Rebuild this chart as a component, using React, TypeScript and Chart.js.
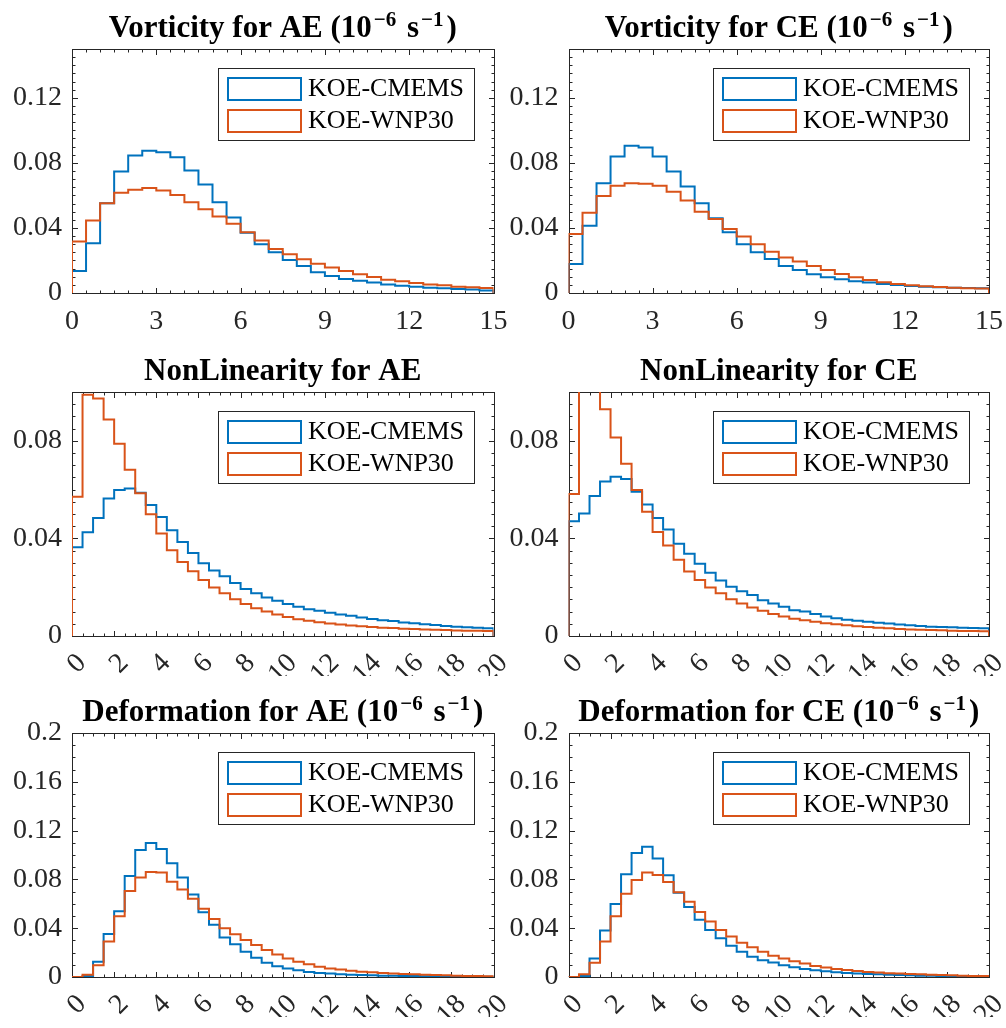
import React, { useEffect, useRef } from 'react';
import { Chart, registerables } from 'chart.js';

Chart.register(...registerables);

// ---------------- data ----------------
const seriesNames = ['KOE-CMEMS', 'KOE-WNP30'];
const seriesColors = ['#0072BD', '#D95319'];

const vorticityEdges = [0, 0.5, 1, 1.5, 2, 2.5, 3, 3.5, 4, 4.5, 5, 5.5, 6, 6.5, 7, 7.5, 8, 8.5, 9, 9.5, 10, 10.5, 11, 11.5, 12, 12.5, 13, 13.5, 14, 14.5, 15];
const longEdges = [0, 0.5, 1, 1.5, 2, 2.5, 3, 3.5, 4, 4.5, 5, 5.5, 6, 6.5, 7, 7.5, 8, 8.5, 9, 9.5, 10, 10.5, 11, 11.5, 12, 12.5, 13, 13.5, 14, 14.5, 15, 15.5, 16, 16.5, 17, 17.5, 18, 18.5, 19, 19.5, 20];

const vortXTicks = [0, 3, 6, 9, 12, 15];
const vortXLabels = ['0', '3', '6', '9', '12', '15'];
const longXTicks = [0, 2, 4, 6, 8, 10, 12, 14, 16, 18, 20];
const longXLabels = ['0', '2', '4', '6', '8', '10', '12', '14', '16', '18', '20'];
const vortYTicks = [0, 0.04, 0.08, 0.12];
const vortYLabels = ['0', '0.04', '0.08', '0.12'];
const nlYTicks = [0, 0.04, 0.08];
const nlYLabels = ['0', '0.04', '0.08'];
const defYTicks = [0, 0.04, 0.08, 0.12, 0.16, 0.2];
const defYLabels = ['0', '0.04', '0.08', '0.12', '0.16', '0.2'];

const vortAE_CMEMS = [0.0135, 0.0306, 0.0552, 0.0747, 0.0845, 0.0874, 0.0866, 0.0835, 0.0753, 0.0667, 0.0558, 0.0464, 0.0371, 0.0299, 0.0250, 0.0203, 0.0166, 0.0127, 0.0105, 0.0086, 0.0076, 0.0064, 0.0053, 0.0045, 0.0039, 0.0033, 0.0029, 0.0025, 0.0021, 0.0015];
const vortAE_WNP30 = [0.0316, 0.0445, 0.0552, 0.0617, 0.0634, 0.0646, 0.0630, 0.0603, 0.0558, 0.0515, 0.0470, 0.0425, 0.0373, 0.0322, 0.0271, 0.0238, 0.0207, 0.0180, 0.0156, 0.0135, 0.0115, 0.0098, 0.0082, 0.0072, 0.0062, 0.0053, 0.0047, 0.0039, 0.0035, 0.0031];

const vortCE_CMEMS = [0.0178, 0.0414, 0.0675, 0.0839, 0.0905, 0.0894, 0.0839, 0.0747, 0.0654, 0.0552, 0.0460, 0.0373, 0.0299, 0.0250, 0.0209, 0.0166, 0.0142, 0.0115, 0.0097, 0.0084, 0.0072, 0.0064, 0.0055, 0.0049, 0.0043, 0.0039, 0.0035, 0.0033, 0.0031, 0.0029];
const vortCE_WNP30 = [0.0363, 0.0494, 0.0597, 0.0660, 0.0675, 0.0671, 0.0660, 0.0623, 0.0568, 0.0500, 0.0455, 0.0394, 0.0347, 0.0299, 0.0254, 0.0219, 0.0193, 0.0166, 0.0142, 0.0117, 0.0097, 0.0080, 0.0066, 0.0055, 0.0047, 0.0041, 0.0037, 0.0033, 0.0029, 0.0027];

const nlAE_CMEMS = [0.0364, 0.0425, 0.0484, 0.0564, 0.0598, 0.0605, 0.0587, 0.0537, 0.0488, 0.0433, 0.0385, 0.0340, 0.0298, 0.0268, 0.0245, 0.0217, 0.0193, 0.0175, 0.0158, 0.0144, 0.0131, 0.0120, 0.0110, 0.0103, 0.0095, 0.0088, 0.0083, 0.0076, 0.0070, 0.0065, 0.0061, 0.0055, 0.0052, 0.0048, 0.0045, 0.0041, 0.0038, 0.0036, 0.0034, 0.0032];
const nlAE_WNP30 = [0.0571, 0.0989, 0.0973, 0.0887, 0.0788, 0.0681, 0.0585, 0.0499, 0.0420, 0.0351, 0.0303, 0.0265, 0.0230, 0.0199, 0.0175, 0.0151, 0.0131, 0.0114, 0.0100, 0.0088, 0.0078, 0.0069, 0.0062, 0.0056, 0.0051, 0.0047, 0.0043, 0.0040, 0.0037, 0.0034, 0.0033, 0.0030, 0.0029, 0.0027, 0.0026, 0.0025, 0.0023, 0.0022, 0.0022, 0.0021];

const nlCE_CMEMS = [0.0470, 0.0502, 0.0574, 0.0633, 0.0653, 0.0643, 0.0591, 0.0539, 0.0484, 0.0436, 0.0378, 0.0337, 0.0296, 0.0259, 0.0227, 0.0202, 0.0183, 0.0168, 0.0147, 0.0133, 0.0120, 0.0106, 0.0100, 0.0090, 0.0080, 0.0073, 0.0067, 0.0062, 0.0058, 0.0054, 0.0051, 0.0047, 0.0044, 0.0041, 0.0038, 0.0037, 0.0036, 0.0034, 0.0033, 0.0032];
const nlCE_WNP30 = [0.0582, 0.1180, 0.1120, 0.0929, 0.0814, 0.0706, 0.0598, 0.0509, 0.0426, 0.0371, 0.0312, 0.0264, 0.0230, 0.0199, 0.0175, 0.0151, 0.0133, 0.0117, 0.0103, 0.0090, 0.0080, 0.0071, 0.0065, 0.0058, 0.0052, 0.0048, 0.0044, 0.0040, 0.0037, 0.0034, 0.0032, 0.0029, 0.0027, 0.0026, 0.0025, 0.0024, 0.0022, 0.0021, 0.0020, 0.0019];

const defAE_CMEMS = [0, 0.0008, 0.0124, 0.0353, 0.0538, 0.0828, 0.1041, 0.1099, 0.1049, 0.0933, 0.0815, 0.0676, 0.0530, 0.0428, 0.0323, 0.0268, 0.0207, 0.0157, 0.0116, 0.0089, 0.0070, 0.0055, 0.0041, 0.0033, 0.0028, 0.0022, 0.0019, 0.0017, 0.0014, 0.0011, 0.0010, 0.0009, 0.0008, 0.0007, 0.0006, 0.0005, 0.0005, 0.0004, 0.0004, 0.0003];
const defAE_WNP30 = [0, 0.0019, 0.0097, 0.0290, 0.0497, 0.0704, 0.0815, 0.0861, 0.0856, 0.0781, 0.0718, 0.0641, 0.0560, 0.0475, 0.0400, 0.0351, 0.0304, 0.0262, 0.0221, 0.0185, 0.0152, 0.0124, 0.0105, 0.0083, 0.0069, 0.0061, 0.0052, 0.0044, 0.0039, 0.0033, 0.0028, 0.0025, 0.0022, 0.0019, 0.0017, 0.0014, 0.0011, 0.0008, 0.0008, 0.0006];

const defCE_CMEMS = [0, 0.0008, 0.0152, 0.0381, 0.0599, 0.0842, 0.1016, 0.1068, 0.0972, 0.0834, 0.0690, 0.0574, 0.0469, 0.0386, 0.0318, 0.0257, 0.0207, 0.0166, 0.0138, 0.0119, 0.0097, 0.0080, 0.0066, 0.0055, 0.0047, 0.0039, 0.0033, 0.0028, 0.0025, 0.0022, 0.0019, 0.0017, 0.0014, 0.0011, 0.0010, 0.0009, 0.0008, 0.0007, 0.0006, 0.0005];
const defCE_WNP30 = [0, 0.0022, 0.0116, 0.0290, 0.0497, 0.0682, 0.0795, 0.0856, 0.0836, 0.0778, 0.0695, 0.0616, 0.0533, 0.0455, 0.0386, 0.0331, 0.0281, 0.0243, 0.0207, 0.0174, 0.0152, 0.0130, 0.0111, 0.0091, 0.0078, 0.0066, 0.0058, 0.0050, 0.0041, 0.0036, 0.0030, 0.0028, 0.0025, 0.0022, 0.0019, 0.0017, 0.0014, 0.0011, 0.0008, 0.0008];

// ---------------- styling / layout ----------------
const AXIS = '#262626';
const SERIF = '"Liberation Serif", "Times New Roman", serif';

type Panel = {
  title: string;
  edges: number[];
  a: number[];
  b: number[];
  xMax: number;
  yMax: number;
  xTicks: number[];
  xLabels: string[];
  yTicks: number[];
  yLabels: string[];
  xMinor: number;
  yMinor: number;
  rotate: boolean;
  canvas: { left: number; top: number; width: number; height: number };
  area: { left: number; top: number; right: number; bottom: number };
};

const COLS = [
  { cx: 0, cw: 530, left: 72, right: 493.5 },
  { cx: 480, cw: 526, left: 568.5, right: 989 },
];
const ROWS = [
  { cy: 0, ch: 350, top: 49, bottom: 293 },
  { cy: 330, ch: 370, top: 392, bottom: 636 },
  { cy: 680, ch: 348, top: 733, bottom: 977 },
];

function geom(r: number, c: number) {
  const R = ROWS[r], C = COLS[c];
  return {
    canvas: { left: C.cx, top: R.cy, width: C.cw, height: R.ch },
    area: { left: C.left, top: R.top, right: C.right, bottom: R.bottom },
  };
}

const panels: Panel[] = [
  { title: 'Vorticity for AE (10^{-6} s^{-1})', edges: vorticityEdges, a: vortAE_CMEMS, b: vortAE_WNP30, xMax: 15, yMax: 0.15, xTicks: vortXTicks, xLabels: vortXLabels, yTicks: vortYTicks, yLabels: vortYLabels, xMinor: 0.5, yMinor: 0.005, rotate: false, ...geom(0, 0) },
  { title: 'Vorticity for CE (10^{-6} s^{-1})', edges: vorticityEdges, a: vortCE_CMEMS, b: vortCE_WNP30, xMax: 15, yMax: 0.15, xTicks: vortXTicks, xLabels: vortXLabels, yTicks: vortYTicks, yLabels: vortYLabels, xMinor: 0.5, yMinor: 0.005, rotate: false, ...geom(0, 1) },
  { title: 'NonLinearity for AE', edges: longEdges, a: nlAE_CMEMS, b: nlAE_WNP30, xMax: 20, yMax: 0.1, xTicks: longXTicks, xLabels: longXLabels, yTicks: nlYTicks, yLabels: nlYLabels, xMinor: 0.5, yMinor: 0.005, rotate: true, ...geom(1, 0) },
  { title: 'NonLinearity for CE', edges: longEdges, a: nlCE_CMEMS, b: nlCE_WNP30, xMax: 20, yMax: 0.1, xTicks: longXTicks, xLabels: longXLabels, yTicks: nlYTicks, yLabels: nlYLabels, xMinor: 0.5, yMinor: 0.005, rotate: true, ...geom(1, 1) },
  { title: 'Deformation for AE (10^{-6} s^{-1})', edges: longEdges, a: defAE_CMEMS, b: defAE_WNP30, xMax: 20, yMax: 0.2, xTicks: longXTicks, xLabels: longXLabels, yTicks: defYTicks, yLabels: defYLabels, xMinor: 0.5, yMinor: 0.01, rotate: true, ...geom(2, 0) },
  { title: 'Deformation for CE (10^{-6} s^{-1})', edges: longEdges, a: defCE_CMEMS, b: defCE_WNP30, xMax: 20, yMax: 0.2, xTicks: longXTicks, xLabels: longXLabels, yTicks: defYTicks, yLabels: defYLabels, xMinor: 0.5, yMinor: 0.01, rotate: true, ...geom(2, 1) },
];

// histogram outline (stairs) built from bin edges + counts
function stairs(edges: number[], values: number[]) {
  const pts: { x: number; y: number }[] = [{ x: edges[0], y: 0 }];
  values.forEach((v, i) => {
    pts.push({ x: edges[i], y: v });
    pts.push({ x: edges[i + 1], y: v });
  });
  pts.push({ x: edges[edges.length - 1], y: 0 });
  return pts;
}

const px = (v: number) => Math.round(v) + 0.5;

const framePlugin = {
  id: 'matlabFrame',
  beforeDatasetsDraw(chart: any, _args: any, opts: any) {
    const { ctx, chartArea: a, scales } = chart;
    const xs = scales.x, ys = scales.y;
    const L = px(a.left), R = px(a.right), T = px(a.top), B = px(a.bottom);
    ctx.save();
    ctx.strokeStyle = AXIS;
    ctx.lineWidth = 1;
    ctx.beginPath();
    const drawX = (v: number, len: number) => {
      const x = px(xs.getPixelForValue(v));
      ctx.moveTo(x, B); ctx.lineTo(x, B - len);
      ctx.moveTo(x, T); ctx.lineTo(x, T + len);
    };
    const drawY = (v: number, len: number) => {
      const y = px(ys.getPixelForValue(v));
      ctx.moveTo(L, y); ctx.lineTo(L + len, y);
      ctx.moveTo(R, y); ctx.lineTo(R - len, y);
    };
    const nx = Math.round((xs.max - xs.min) / opts.xMinor);
    for (let i = 0; i <= nx; i++) drawX(xs.min + i * opts.xMinor, 3);
    const ny = Math.round((ys.max - ys.min) / opts.yMinor);
    for (let i = 0; i <= ny; i++) drawY(ys.min + i * opts.yMinor, 3);
    xs.ticks.forEach((t: any) => drawX(t.value, 5.5));
    ys.ticks.forEach((t: any) => drawY(t.value, 5.5));
    ctx.stroke();
    ctx.strokeRect(L, T, R - L, B - T);
    ctx.restore();
  },
};

const legendPlugin = {
  id: 'matlabLegend',
  afterDatasetsDraw(chart: any, _args: any, opts: any) {
    const { ctx, chartArea: a } = chart;
    const w = 256, h = 72;
    const bx = Math.round(a.right - 20 - w) + 0.5;
    const by = Math.round(a.top + 19) + 0.5;
    ctx.save();
    ctx.fillStyle = '#ffffff';
    ctx.fillRect(bx, by, w, h);
    ctx.strokeStyle = AXIS;
    ctx.lineWidth = 1;
    ctx.strokeRect(bx, by, w, h);
    opts.labels.forEach((lab: string, i: number) => {
      const py = by + 9 + i * 32;
      ctx.strokeStyle = opts.colors[i];
      ctx.lineWidth = 2;
      ctx.strokeRect(Math.round(bx + 9.5), Math.round(py), 73, 22);
      ctx.fillStyle = '#000000';
      ctx.font = `26px ${SERIF}`;
      ctx.textAlign = 'left';
      ctx.textBaseline = 'middle';
      ctx.fillText(lab, bx + 89.5, py + 12);
    });
    ctx.restore();
  },
};

function parseTex(s: string) {
  const out: { text: string; sup: boolean }[] = [];
  const re = /\^\{([^}]*)\}/g;
  let last = 0;
  let m: RegExpExecArray | null;
  while ((m = re.exec(s))) {
    if (m.index > last) out.push({ text: s.slice(last, m.index), sup: false });
    out.push({ text: m[1], sup: true });
    last = m.index + m[0].length;
  }
  if (last < s.length) out.push({ text: s.slice(last), sup: false });
  return out;
}

const titlePlugin = {
  id: 'matlabTitle',
  afterDraw(chart: any, _args: any, opts: any) {
    const { ctx, chartArea: a } = chart;
    const segs = parseTex(opts.text).map((sg) => ({
      ...sg,
      draw: sg.sup ? sg.text.replace(/-/g, '\u2212') : sg.text,
    }));
    const mainFont = `bold 31px ${SERIF}`;
    const supFont = `bold 21px ${SERIF}`;
    const preGap = 2, postGap = 3;
    ctx.save();
    let total = 0;
    const widths = segs.map((sg) => {
      ctx.font = sg.sup ? supFont : mainFont;
      const w = ctx.measureText(sg.draw).width + (sg.sup ? preGap + postGap : 0);
      total += w;
      return w;
    });
    let x = (a.left + a.right) / 2 - total / 2;
    const base = a.top - 12.5;
    ctx.fillStyle = '#000000';
    ctx.textAlign = 'left';
    ctx.textBaseline = 'alphabetic';
    segs.forEach((sg, i) => {
      ctx.font = sg.sup ? supFont : mainFont;
      ctx.fillText(sg.draw, x + (sg.sup ? preGap : 0), sg.sup ? base - 11 : base);
      x += widths[i];
    });
    ctx.restore();
  },
};

function PanelChart({ p }: { p: Panel }) {
  const ref = useRef<HTMLCanvasElement | null>(null);
  useEffect(() => {
    if (!ref.current) return;
    const c = p.canvas, ar = p.area;
    const yW = ar.left - c.left;
    const xH = 40;
    const chart = new Chart(ref.current, {
      type: 'line',
      data: {
        datasets: [
          { label: seriesNames[0], data: stairs(p.edges, p.a), borderColor: seriesColors[0], backgroundColor: seriesColors[0], borderWidth: 2, pointRadius: 0, fill: false, tension: 0, order: 1 },
          { label: seriesNames[1], data: stairs(p.edges, p.b), borderColor: seriesColors[1], backgroundColor: seriesColors[1], borderWidth: 2, pointRadius: 0, fill: false, tension: 0, order: 0 },
        ],
      },
      options: {
        animation: false,
        responsive: false,
        maintainAspectRatio: false,
        devicePixelRatio: 1,
        events: [],
        layout: {
          padding: {
            left: 0,
            top: ar.top - c.top,
            right: c.left + c.width - ar.right,
            bottom: c.top + c.height - ar.bottom - xH,
          },
        },
        plugins: {
          legend: { display: false },
          title: { display: false },
          tooltip: { enabled: false },
          matlabFrame: { xMinor: p.xMinor, yMinor: p.yMinor },
          matlabLegend: { labels: seriesNames, colors: seriesColors },
          matlabTitle: { text: p.title },
        } as any,
        scales: {
          x: {
            type: 'linear',
            min: 0,
            max: p.xMax,
            grid: { display: false, drawTicks: false },
            border: { display: false },
            ticks: {
              autoSkip: false,
              minRotation: p.rotate ? 45 : 0,
              maxRotation: p.rotate ? 45 : 0,
              padding: p.rotate ? 11 : 12,
              labelOffset: p.rotate ? 10 : 0,
              color: AXIS,
              font: { family: SERIF, size: 28 },
              callback: (_v: any, i: number) => p.xLabels[i],
            },
            afterBuildTicks: (s: any) => { s.ticks = p.xTicks.map((v) => ({ value: v })); },
            afterFit: (s: any) => { s.height = xH; s.paddingLeft = 0; s.paddingRight = 0; s.paddingTop = 0; s.paddingBottom = 0; },
          },
          y: {
            type: 'linear',
            min: 0,
            max: p.yMax,
            grid: { display: false, drawTicks: false },
            border: { display: false },
            ticks: {
              padding: 10,
              color: AXIS,
              font: { family: SERIF, size: 28 },
              callback: (_v: any, i: number) => p.yLabels[i],
            },
            afterBuildTicks: (s: any) => { s.ticks = p.yTicks.map((v) => ({ value: v })); },
            afterFit: (s: any) => { s.width = yW; s.paddingLeft = 0; s.paddingRight = 0; s.paddingTop = 0; s.paddingBottom = 0; },
          },
        },
      } as any,
      plugins: [framePlugin, legendPlugin, titlePlugin] as any,
    });
    return () => chart.destroy();
  }, [p]);
  const c = p.canvas;
  return (
    <canvas
      ref={ref}
      width={c.width}
      height={c.height}
      style={{ position: 'absolute', left: c.left, top: c.top, width: c.width, height: c.height }}
    />
  );
}

export default function App() {
  return (
    <div style={{ position: 'absolute', left: 0, top: 0, width: 1006, height: 1028, overflow: 'hidden', background: '#ffffff' }}>
      {panels.map((p, i) => (
        <PanelChart key={i} p={p} />
      ))}
    </div>
  );
}
